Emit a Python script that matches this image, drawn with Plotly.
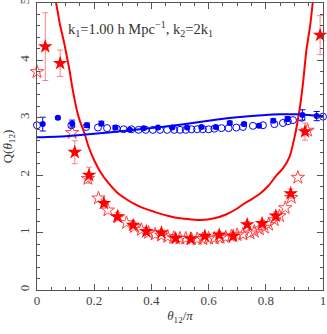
import plotly.graph_objects as go

# Theory curves
red_curve_x = [0.065, 0.073, 0.08, 0.088, 0.096, 0.105, 0.114, 0.122, 0.131, 0.14, 0.149, 0.157, 0.166, 0.18, 0.2,
               0.22, 0.25, 0.28, 0.31, 0.34, 0.37, 0.4, 0.43, 0.46, 0.5, 0.54, 0.574, 0.62, 0.663,
               0.7, 0.72, 0.75, 0.78, 0.81, 0.838, 0.86, 0.883, 0.9, 0.918, 0.93, 0.942, 0.955, 0.965]
red_curve_y = [5.05, 4.83, 4.63, 4.46, 4.28, 4.05, 3.82, 3.57, 3.33, 3.12, 2.96, 2.85, 2.73, 2.5, 2.26,
               2.07, 1.86, 1.70, 1.59, 1.50, 1.43, 1.38, 1.33, 1.29, 1.25, 1.23, 1.22, 1.25, 1.32,
               1.42, 1.49, 1.58, 1.68, 1.82, 2.0, 2.12, 2.32, 2.65, 3.14, 3.6, 4.18, 4.6, 5.05]

blue_curve_x = [0.0, 0.1, 0.2, 0.3, 0.4, 0.5, 0.6, 0.7, 0.8, 0.85, 0.9, 0.95, 1.0]
blue_curve_y = [2.66, 2.68, 2.72, 2.77, 2.82, 2.88, 2.95, 3.01, 3.05, 3.06, 3.06, 3.05, 3.03]

# Filled stars (red) with errors
red_pts_x = [0.029, 0.081, 0.132, 0.182, 0.234, 0.281, 0.336, 0.382, 0.435, 0.485, 0.537, 0.587, 0.637, 0.686,
             0.735, 0.787, 0.835, 0.887, 0.937, 0.99]
red_pts_y = [4.24, 3.95, 2.40, 2.0, 1.51, 1.28, 1.13, 1.02, 1.0, 0.90, 0.89, 0.94, 0.96, 0.94,
             1.14, 1.16, 1.29, 1.68, 2.76, 4.44]
red_pts_err = [0.59, 0.23, 0.2, 0.14, 0.05, 0.07, 0.05, 0.05, 0.05, 0.04, 0.04, 0.04, 0.05, 0.04,
               0.05, 0.06, 0.07, 0.08, 0.15, 0.34]

# Open stars (red)
red_open_x = [0.0, 0.123, 0.178, 0.215, 0.248, 0.283, 0.313, 0.34, 0.365, 0.39, 0.413, 0.435, 0.457, 0.478,
              0.5, 0.52, 0.54, 0.56, 0.58, 0.6, 0.62, 0.64, 0.66, 0.68, 0.7, 0.72, 0.745, 0.76, 0.778,
              0.795, 0.81, 0.83, 0.848, 0.868, 0.889, 0.912, 0.946]
red_open_y = [3.80, 2.74, 1.94, 1.60, 1.39, 1.27, 1.17, 1.10, 1.05, 1.0, 0.97, 0.95, 0.93, 0.91,
              0.90, 0.90, 0.89, 0.89, 0.89, 0.90, 0.90, 0.91, 0.92, 0.94, 0.96, 0.97, 0.99, 1.02, 1.06,
              1.09, 1.14, 1.22, 1.29, 1.43, 1.61, 1.96, 2.78]

# Filled circles (blue) with errors
blue_pts_x = [0.02, 0.073, 0.123, 0.175, 0.225, 0.274, 0.324, 0.373, 0.423, 0.473, 0.525, 0.575, 0.625, 0.674,
              0.724, 0.776, 0.826, 0.876, 0.928, 0.978]
blue_pts_y = [2.89, 3.0, 2.90, 2.87, 2.90, 2.83, 2.79, 2.82, 2.83, 2.83, 2.83, 2.84, 2.84, 2.91,
              2.89, 2.86, 2.95, 2.98, 3.05, 3.03]
blue_pts_err = [0.12, 0.02, 0.06, 0.04, 0.04, 0.03, 0.02, 0.02, 0.02, 0.02, 0.02, 0.02, 0.02, 0.03,
                0.03, 0.03, 0.03, 0.04, 0.09, 0.08]

# Open circles (blue)
blue_open_x = [0.0, 0.12, 0.172, 0.213, 0.245, 0.279, 0.303, 0.33, 0.355, 0.38, 0.405, 0.43, 0.455, 0.48,
               0.5, 0.52, 0.54, 0.56, 0.58, 0.6, 0.62, 0.645, 0.67, 0.697, 0.72, 0.755, 0.79, 0.83,
               0.86, 0.877, 0.895, 0.925, 1.0]
blue_open_y = [2.87, 2.87, 2.84, 2.83, 2.82, 2.81, 2.80, 2.80, 2.79, 2.79, 2.79, 2.79, 2.79, 2.79,
               2.79, 2.79, 2.80, 2.80, 2.80, 2.80, 2.81, 2.82, 2.82, 2.83, 2.84, 2.86, 2.87, 2.89,
               2.91, 2.94, 2.96, 3.0, 3.02]

x_ticks = [0, 0.2, 0.4, 0.6, 0.8, 1]
x_tick_labels = ["0", "0.2", "0.4", "0.6", "0.8", "1"]
y_ticks = [0, 1, 2, 3, 4, 5]
y_tick_labels = ["0", "1", "2", "3", "4", "5"]

RED = "#ff0000"
BLUE = "#0000ff"
ERR_RED = "rgba(255,90,90,0.75)"
FONT = "Liberation Serif"
GRAY = "#555555"

fig = go.Figure()
fig.add_trace(go.Scatter(x=red_open_x, y=red_open_y, mode="markers", cliponaxis=False,
                         marker=dict(symbol="star-open", size=10, color=RED, line=dict(width=1, color=RED)),
                         opacity=0.75))
fig.add_trace(go.Scatter(x=blue_open_x, y=blue_open_y, mode="markers", cliponaxis=False,
                         marker=dict(symbol="circle-open", size=7, color=BLUE, line=dict(width=1, color=BLUE))))
fig.add_trace(go.Scatter(x=red_pts_x, y=red_pts_y, mode="markers", cliponaxis=False,
                         marker=dict(symbol="star", size=11, color=RED),
                         error_y=dict(type="data", array=red_pts_err, color=ERR_RED, thickness=1, width=3)))
fig.add_trace(go.Scatter(x=blue_pts_x, y=blue_pts_y, mode="markers", cliponaxis=False,
                         marker=dict(symbol="circle", size=6, color=BLUE),
                         error_y=dict(type="data", array=blue_pts_err, color=BLUE, thickness=1, width=3)))
fig.add_trace(go.Scatter(x=red_curve_x, y=red_curve_y, mode="lines",
                         line=dict(color=RED, width=2, shape="spline", smoothing=0.5)))
fig.add_trace(go.Scatter(x=blue_curve_x, y=blue_curve_y, mode="lines",
                         line=dict(color=BLUE, width=2, shape="spline", smoothing=0.6)))

fig.add_annotation(x=0.1, y=4.55, xref="x", yref="y", xanchor="left", yanchor="middle",
                   text="k<sub>1</sub>=1.00 h Mpc<sup>−1</sup>, k<sub>2</sub>=2k<sub>1</sub>",
                   showarrow=False, font=dict(family=FONT, size=14.5, color="#333333"))

axis_common = dict(showgrid=False, zeroline=False, showline=True, linecolor=GRAY, linewidth=1,
                   mirror="allticks", ticks="inside", ticklen=6, tickcolor=GRAY, automargin=False,
                   ticklabeloverflow="allow",
                   tickfont=dict(family=FONT, size=13, color="#444444"))
fig.update_xaxes(range=[0, 1], tickvals=x_ticks, ticktext=x_tick_labels, ticklabelstandoff=-2,
                 minor=dict(dtick=0.05, ticks="inside", ticklen=3, tickcolor=GRAY, showgrid=False),
                 title=dict(text="<i>θ</i><sub>12</sub>/<i>π</i>", font=dict(family=FONT, size=13, color="#333333"),
                            standoff=4),
                 **axis_common)
fig.update_yaxes(range=[0, 5], tickvals=y_ticks, ticktext=y_tick_labels, tickangle=-90, ticklabelstandoff=2,
                 minor=dict(dtick=0.2, ticks="inside", ticklen=3, tickcolor=GRAY, showgrid=False),
                 title=dict(text="Q(<i>θ</i><sub>12</sub>)", font=dict(family=FONT, size=13, color="#333333"),
                            standoff=2),
                 **axis_common)
fig.update_layout(width=327, height=334, margin=dict(l=37, r=4, t=3, b=44),
                  paper_bgcolor="white", plot_bgcolor="white", showlegend=False)
fig.write_html("out.html", config={"displayModeBar": False},
               post_script="document.body.style.margin='0';document.body.style.padding='0';")
